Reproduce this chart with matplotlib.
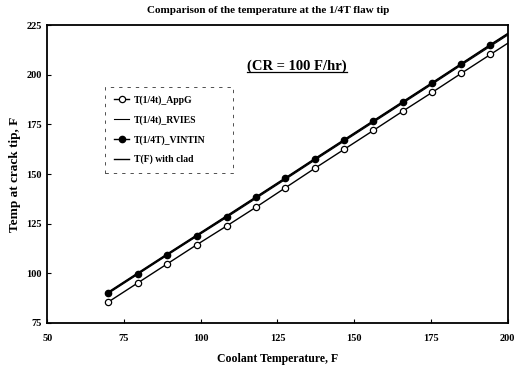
import matplotlib.pyplot as plt
from matplotlib.lines import Line2D

plt.rcParams['font.family'] = ['Liberation Serif', 'DejaVu Serif']
plt.rcParams['font.weight'] = 'bold'

# coolant temperature (F) and crack tip temperatures
coolant = [69.9, 79.4, 89.0, 98.7, 108.4, 118.0, 127.6, 137.1, 146.7, 156.3, 165.8, 175.4, 184.9, 194.4, 204.0]
t_appg = [85.6, 95.1, 104.7, 114.4, 123.8, 133.3, 143.1, 152.8, 162.4, 172.0, 181.6, 191.1, 200.7, 210.2, 219.8]
t_rvies = [89.9, 99.4, 109.0, 118.6, 128.1, 137.7, 147.3, 156.9, 166.5, 176.1, 185.6, 195.2, 204.8, 214.3, 223.9]
t_vintin = [90.3, 99.8, 109.4, 119.0, 128.6, 138.2, 147.8, 157.4, 167.0, 176.6, 186.1, 195.7, 205.3, 214.9, 224.4]
t_clad = [90.6, 100.1, 109.7, 119.3, 128.9, 138.5, 148.1, 157.7, 167.3, 176.9, 186.4, 196.0, 205.6, 215.2, 224.7]

fig = plt.figure(figsize=(5.16, 3.71), dpi=100)
ax = fig.add_axes([0.0917, 0.1294, 0.892, 0.803])

n = len(coolant) - 1
ax.plot(coolant, t_appg, color='black', lw=1.0, marker='o', ms=4.5,
        mfc='white', mec='black', mew=0.9, markevery=range(n), label='T(1/4t)_AppG')
ax.plot(coolant, t_rvies, color='black', lw=0.8, label='T(1/4t)_RVIES')
ax.plot(coolant, t_vintin, color='black', lw=1.0, marker='o', ms=4.5,
        mfc='black', mec='black', markevery=range(n), label='T(1/4T)_VINTIN')
ax.plot(coolant, t_clad, color='black', lw=1.0, label='T(F) with clad')

ax.set_xlim(50, 200)
ax.set_ylim(75, 225)
ax.set_xticks([50, 75, 100, 125, 150, 175, 200])
ax.set_yticks([75, 100, 125, 150, 175, 200, 225])
ax.tick_params(direction='in', length=3, labelsize=7.5, width=0.8)
ax.tick_params(axis='x', pad=8)
ax.tick_params(axis='y', pad=4)
for lab in ax.get_xticklabels() + ax.get_yticklabels():
    lab.set_fontweight('bold')
for s in ax.spines.values():
    s.set_linewidth(1.3)

ax.set_xlabel('Coolant Temperature, F', fontsize=8.5, fontweight='bold', labelpad=7)
ax.set_ylabel('Temp at crack tip, F', fontsize=9.5, fontweight='bold', labelpad=4)
fig.text(0.52, 0.972, 'Comparison of the temperature at the 1/4T flaw tip',
         ha='center', va='center', fontsize=8, fontweight='bold')

leg = ax.legend(loc='upper left', bbox_to_anchor=(0.115, 0.0, 0.298, 0.81),
                mode='expand', fontsize=7,
                handlelength=1.6, handletextpad=0.5, labelspacing=1.05,
                fancybox=False, edgecolor='black', borderpad=0.9)
leg.get_frame().set_linewidth(0.6)
leg.get_frame().set_linestyle((0, (4, 6)))
for t in leg.get_texts():
    t.set_fontweight('bold')

note = ax.text(131.4, 202.3, '(CR = 100 F/hr)', ha='center', va='baseline',
               fontsize=10.5, fontweight='bold')
fig.canvas.draw()
bb = note.get_window_extent(fig.canvas.get_renderer()).transformed(fig.transFigure.inverted())
fig.add_artist(Line2D([bb.x0, bb.x1], [bb.y0 + 0.004, bb.y0 + 0.004],
                      color='black', lw=0.9, transform=fig.transFigure))

plt.savefig('out.png', dpi=100)
